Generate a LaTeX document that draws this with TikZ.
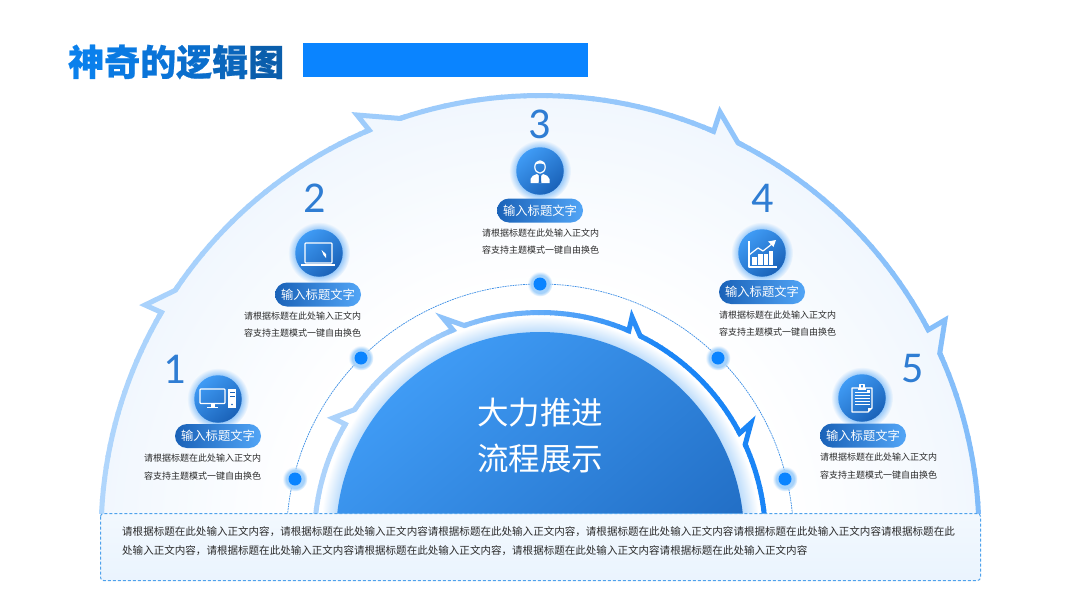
\documentclass[tikz,border=0pt]{standalone}
\usepackage{fontspec}
\setmainfont{Noto Sans CJK SC}[BoldFeatures={FakeBold=0.6}]
\newfontfamily\numfont{Carlito}
\usetikzlibrary{fadings,calc}
\definecolor{regionedge}{HTML}{F1F7FE}
\definecolor{boxfill}{HTML}{EAF4FE}
\definecolor{discglow}{HTML}{BCDCFB}
\definecolor{outerA}{HTML}{B2D7FC}
\definecolor{outerB}{HTML}{7FBBFA}
\definecolor{innerA}{HTML}{ADD3FB}
\definecolor{innerB}{HTML}{1A85F6}
\definecolor{iconA}{HTML}{3F9BF5}
\definecolor{iconB}{HTML}{1A62B8}
\definecolor{dotblue}{HTML}{0A84FF}
\definecolor{halo}{HTML}{A5D2FB}
\definecolor{numblue}{HTML}{2F7DD3}
\definecolor{boxedge}{HTML}{4FA2EC}
\definecolor{dashblue}{HTML}{3D8FE6}
\definecolor{bodytext}{HTML}{2A2A2A}
\pgfdeclareradialshading{regionsh}{\pgfpointorigin}{color(0bp)=(white);color(14bp)=(white);color(25bp)=(regionedge);color(50bp)=(regionedge)}
\pgfdeclareradialshading{discsh}{\pgfpointorigin}{color(0bp)=(discglow);color(22.5bp)=(discglow);color(24.3bp)=(white);color(50bp)=(white)}
\pgfdeclareradialshading{glowsh}{\pgfpointorigin}{color(0bp)=(white);color(18bp)=(white);color(25bp)=(black);color(50bp)=(black)}
\pgfdeclarefading{glowf}{\pgfuseshading{glowsh}}
\tikzset{
  bandline/.style={line width=5pt,line join=miter,miter limit=12},
  iconbg/.style={circle,minimum size=47.5pt,inner sep=0pt,top color=iconA,bottom color=iconB,shading angle=40},
  pilltitle/.style={rectangle,rounded corners=12pt,minimum width=86pt,minimum height=24pt,inner sep=0pt,
    left color=iconB,right color=iconA!90,text=white,font=\fontsize{12.3}{14}\selectfont},
  smalltext/.style={anchor=west,inner sep=0pt,text=bodytext,font=\fontsize{9}{11}\selectfont},
  bodyline/.style={anchor=west,inner sep=0pt,text=bodytext,font=\fontsize{10.54}{12}\selectfont},
  numlabel/.style={inner sep=0pt,text=numblue,font=\numfont\fontsize{44}{46}\selectfont},
  centertext/.style={inner sep=0pt,text=white,font=\fontsize{31.5}{34}\selectfont},
  dotnode/.style={circle,fill=dotblue,minimum size=13pt,inner sep=0pt},
  iconline/.style={draw=white,line width=1.2pt,line join=round},
}
% gradient arc: from, to, radius, colA, colB, lo, hi
\newcommand{\gradarc}[7]{%
  \pgfmathsetmacro{\nseg}{int(ceil(abs(#2-#1)/1.5))}%
  \foreach \i in {1,...,\nseg}{%
    \pgfmathsetmacro{\aa}{#1+(#2-#1)*(\i-1)/\nseg}%
    \pgfmathsetmacro{\bb}{#1+(#2-#1)*\i/\nseg+0.25*sign(#2-#1)}%
    \pgfmathsetmacro{\pp}{min(100,max(0,(\aa-#6)/(#7-#6)*100))}%
    \draw[bandline,color=#4!\pp!#5] (-\aa:#3) -- (-\bb:#3);
  }}
% barb: a1 (larger angle), a2, tip, radius, colA, colB, lo, hi
\newcommand{\barbline}[8]{%
  \pgfmathsetmacro{\pp}{min(100,max(0,((#1+#2)/2-#7)/(#8-#7)*100))}%
  \pgfmathsetmacro{\ua}{#1+0.8}\pgfmathsetmacro{\ub}{#2-0.8}%
  \draw[bandline,color=#5!\pp!#6] (-\ua:#4) -- (-#1:#4) -- (#3) -- (-#2:#4) -- (-\ub:#4);
}
\begin{document}
\begin{tikzpicture}[x=1pt,y=-1pt]
\useasboundingbox (0,0) rectangle (1080,608);
\fill[white] (0,0) rectangle (1080,608);
\coordinate (ot1) at (145,305);
\coordinate (ot2) at (357,115);
\coordinate (ot3) at (720,112);
\coordinate (ot4) at (945,320);
\coordinate (it1) at (333,418);
\coordinate (it2) at (443,318);
\coordinate (it3) at (632,317);
\coordinate (it4) at (751,423);
\begin{scope}
\clip (0,0) rectangle (1080,513.5);
% region
\shade[shading=regionsh] (540,534.5) circle [radius=439];
\fill[regionedge] (ot1) -- (163,313) -- (175,290) -- cycle;
\fill[regionedge] (ot2) -- (370,132) -- (400,118) -- cycle;
\fill[regionedge] (ot3) -- (713,132) -- (738,142) -- cycle;
\fill[regionedge] (ot4) -- (928,330) -- (940,353) -- cycle;
% outer band
\begin{scope}[shift={(540,534.5)}]
  \gradarc{180}{149.6}{439}{outerA}{outerB}{0}{180}
  \barbline{149.6}{146.2}{ot1}{439}{outerA}{outerB}{0}{180}
  \gradarc{146.2}{112.9}{439}{outerA}{outerB}{0}{180}
  \barbline{112.9}{108.6}{ot2}{439}{outerA}{outerB}{0}{180}
  \gradarc{108.6}{66.7}{439}{outerA}{outerB}{0}{180}
  \barbline{66.7}{63.2}{ot3}{439}{outerA}{outerB}{0}{180}
  \gradarc{63.2}{27.8}{439}{outerA}{outerB}{0}{180}
  \barbline{27.8}{24.4}{ot4}{439}{outerA}{outerB}{0}{180}
  \gradarc{24.4}{0}{439}{outerA}{outerB}{0}{180}
\end{scope}
% dashed arc
\begin{scope}[shift={(540,537.5)}]
  \draw[color=dashblue,line width=0.7pt,dash pattern=on 1.8pt off 0.8pt]
    plot[domain=0:180,samples=120] (-\x:253.5);
\end{scope}
% disc glow and inner band
\shade[shading=discsh] (540,536) circle [radius=226];
\begin{scope}[shift={(540,538)}]
  \gradarc{180}{149.7}{225.5}{innerA}{innerB}{58}{125}
  \barbline{149.7}{145.3}{it1}{225.5}{innerA}{innerB}{58}{125}
  \gradarc{145.3}{112.7}{225.5}{innerA}{innerB}{58}{125}
  \barbline{112.7}{109.6}{it2}{225.5}{innerA}{innerB}{58}{125}
  \gradarc{109.6}{66.8}{225.5}{innerA}{innerB}{58}{125}
  \barbline{66.8}{63.6}{it3}{225.5}{innerA}{innerB}{58}{125}
  \gradarc{63.6}{27.7}{225.5}{innerA}{innerB}{58}{125}
  \barbline{27.7}{24.5}{it4}{225.5}{innerA}{innerB}{58}{125}
  \gradarc{24.5}{0}{225.5}{innerA}{innerB}{58}{125}
\end{scope}
% disc
\shade[top color=iconA,bottom color=iconB,shading angle=40] (540,536) circle [radius=204];
\end{scope}
\node[centertext] (c1) at (540,413) {大力推进};
\node[centertext] (c2) at (540,459) {流程展示};
% dots
\foreach \n/\x/\y in {a/295/479,b/361/358,c/540/284,d/718/358,e/785/479}{
  \fill[halo,path fading=glowf] (\x,\y) circle [radius=12.5];
  \node[dotnode] (dot\n) at (\x,\y) {};
}
% icon glows
\foreach \x/\y in {218/399,319/253,540/171,762/253,862/398}{
  \fill[iconA!60,path fading=glowf] (\x,\y) circle [radius=31];
}
% numbers
\node[numlabel] (n1) at (175,369) {1};
\node[numlabel] (n2) at (315,198) {2};
\node[numlabel] (n3) at (540,124) {3};
\node[numlabel] (n4) at (763,198) {4};
\node[numlabel] (n5) at (913,369) {5};
% icon discs
\node[iconbg] (i1) at (218,399) {};
\node[iconbg] (i2) at (319,253) {};
\node[iconbg] (i3) at (540,171) {};
\node[iconbg] (i4) at (762,253) {};
\node[iconbg] (i5) at (862,398) {};
% icon 1: desktop
\begin{scope}[shift={(218,399)}]
  \draw[iconline,rounded corners=0.8pt] (-18,-10) rectangle (7,4.5);
  \fill[white] (-7.5,4.5) rectangle (-3.5,7.5);
  \fill[white] (-11,7.5) rectangle (0,9);
  \fill[white] (10,-10) rectangle (18,9);
  \fill[iconB] (11.5,-7.5) rectangle (16.5,-6.5);
  \fill[iconB] (11.5,-3) rectangle (16.5,-2);
  \fill[iconB] (14,5.5) circle [radius=0.9];
\end{scope}
% icon 2: laptop
\begin{scope}[shift={(319,253)}]
  \draw[iconline,rounded corners=0.8pt] (-14,-10) rectangle (13,10);
  \fill[white] (-18,10.5) rectangle (16,13);
  \fill[white] (2.5,-3) -- (7,1) -- (7,5) -- (4.5,2) -- cycle;
\end{scope}
% icon 3: person
\begin{scope}[shift={(540,171)}]
  \draw[iconline] (0,-4) ellipse [x radius=5.2,y radius=6.2];
  \fill[white] (-5.2,-6) .. controls (-4,-11) and (4,-11) .. (5.2,-6) .. controls (2,-8) and (-2,-8) .. cycle;
  \fill[white] (-9.5,12) -- (-9.5,8) .. controls (-9,5) and (-6,4) .. (-3,3) -- (0,6) -- (3,3) .. controls (6,4) and (9,5) .. (9.5,8) -- (9.5,12) -- cycle;
  \fill[iconB!80!iconA] (-1,5) -- (1,5) -- (1.3,12) -- (-1.3,12) -- cycle;
\end{scope}
% icon 4: chart
\begin{scope}[shift={(762,253)}]
  \draw[iconline] (-13,-12) -- (-13,14) -- (15,14);
  \fill[white] (-10,4) rectangle (-5.5,12);
  \fill[white] (-4,0.5) rectangle (0.5,12);
  \fill[white] (2,1) rectangle (5.5,12);
  \fill[white] (7,-2) rectangle (10.5,12);
  \draw[iconline] (-13,2) -- (-4,-5) -- (1,-2) -- (10,-9);
  \fill[white] (14,-13) -- (6,-11.5) -- (11.5,-6) -- cycle;
\end{scope}
% icon 5: clipboard
\begin{scope}[shift={(862,398)}]
  \draw[iconline] (-10,-10) -- (-10,14) -- (6,14) -- (10,10) -- (10,-10) -- cycle;
  \fill[white] (-4,-10) rectangle (4,-8);
  \draw[iconline] (-2,-10) -- (-2,-13.5) -- (2,-13.5) -- (2,-10);
  \foreach \yy in {-5.5,-2.5,0.5,3.5,6.5}{\draw[white,line width=1.2pt] (-7.5,\yy) -- (7.5,\yy);}
  \fill[white] (5,-8) rectangle (8,-6);
  \fill[white] (6,14) -- (6,10) -- (10,10) -- cycle;
\end{scope}
% pills
\node[pilltitle] (p1) at (218,436) {输入标题文字};
\node[pilltitle] (p2) at (318,294.5) {输入标题文字};
\node[pilltitle] (p3) at (540,210.5) {输入标题文字};
\node[pilltitle] (p4) at (762,292) {输入标题文字};
\node[pilltitle] (p5) at (863,435.5) {输入标题文字};
% small text
\node[smalltext] (a1) at (144,458.5) {请根据标题在此处输入正文内};
\node[smalltext] (a2) at (144,476) {容支持主题模式一键自由换色};
\node[smalltext] (b1) at (244,316.5) {请根据标题在此处输入正文内};
\node[smalltext] (b2) at (244,333.5) {容支持主题模式一键自由换色};
\node[smalltext] (c3) at (482,233) {请根据标题在此处输入正文内};
\node[smalltext] (c4) at (482,250) {容支持主题模式一键自由换色};
\node[smalltext] (d1) at (719,315) {请根据标题在此处输入正文内};
\node[smalltext] (d2) at (719,332) {容支持主题模式一键自由换色};
\node[smalltext] (e1) at (820,457.5) {请根据标题在此处输入正文内};
\node[smalltext] (e2) at (820,475) {容支持主题模式一键自由换色};
% bottom box
\draw[boxedge,line width=1pt,dash pattern=on 3pt off 2pt,rounded corners=3pt,top color=boxfill!60,bottom color=boxfill]
  (100.5,513.5) rectangle (980.5,580.5);
\node[bodyline] (t1) at (122,532) {请根据标题在此处输入正文内容，请根据标题在此处输入正文内容请根据标题在此处输入正文内容，请根据标题在此处输入正文内容请根据标题在此处输入正文内容请根据标题在此};
\node[bodyline] (t2) at (122,551) {处输入正文内容，请根据标题在此处输入正文内容请根据标题在此处输入正文内容，请根据标题在此处输入正文内容请根据标题在此处输入正文内容};
% title
\node[anchor=west,inner sep=0pt,font=\fontsize{36}{40}\selectfont\bfseries] (title) at (68,62)
  {\textcolor[HTML]{0A80EC}{神}\textcolor[HTML]{0A7AE2}{奇}\textcolor[HTML]{0A74D8}{的}\textcolor[HTML]{0A6ECC}{逻}\textcolor[HTML]{0A66BC}{辑}\textcolor[HTML]{0A5EAC}{图}};
\fill[dotblue] (303,43) rectangle (588,77);
\end{tikzpicture}
\end{document}
